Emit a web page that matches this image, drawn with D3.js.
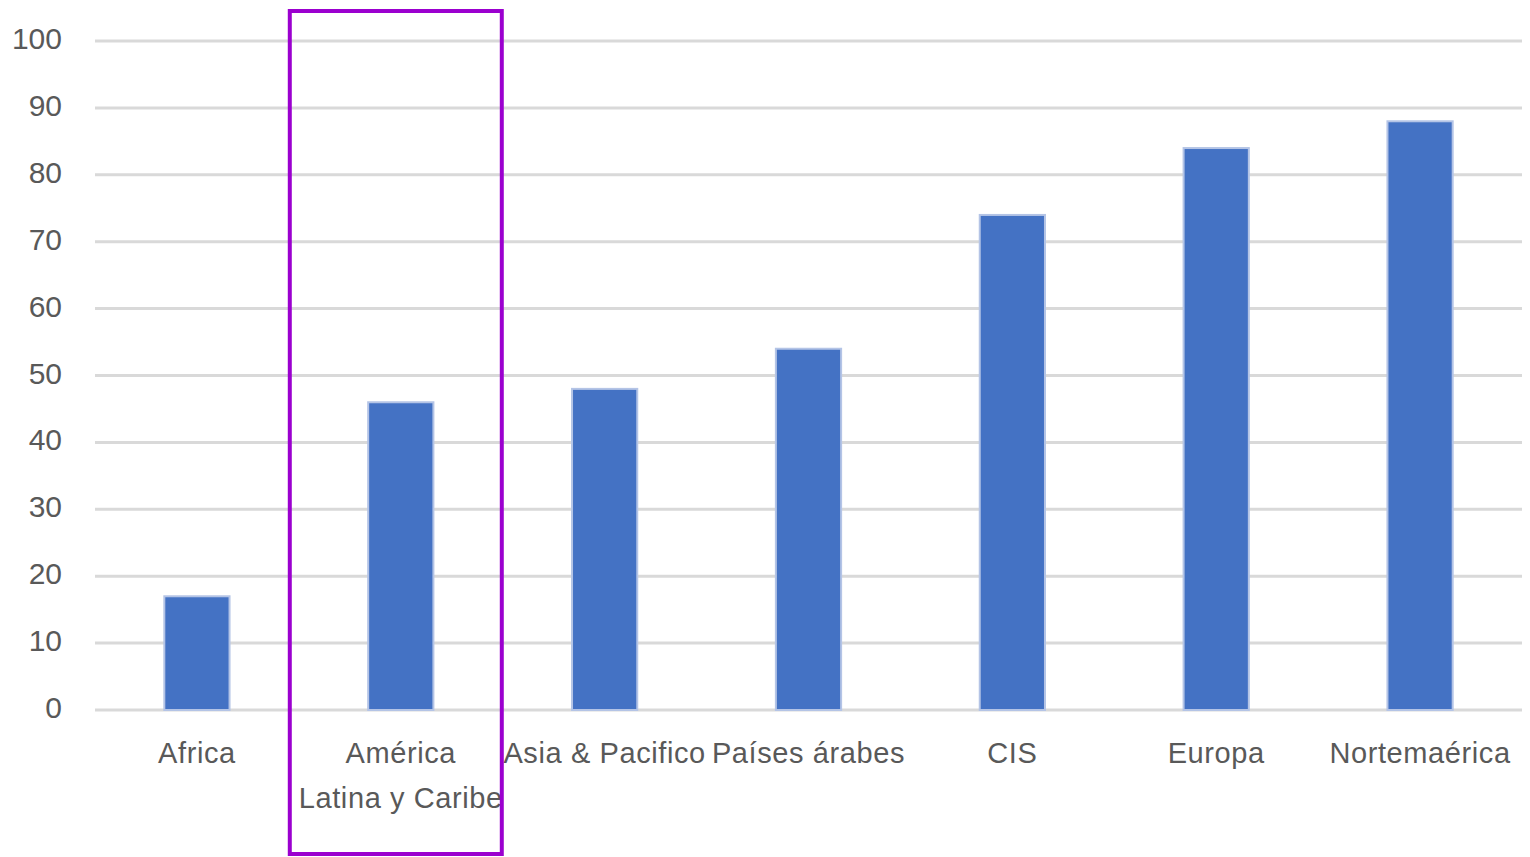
<!DOCTYPE html>
<html>
<head>
<meta charset="utf-8">
<script src="https://cdn.jsdelivr.net/npm/d3@7"></script>
<style>
  html, body { margin: 0; padding: 0; background: #fff; }
  svg { display: block; }
</style>
</head>
<body>
<svg id="chart" width="1530" height="857"></svg>
<script>
const categories = ["Africa", "América\nLatina y Caribe", "Asia & Pacifico", "Países árabes", "CIS", "Europa", "Nortemaérica"];
const values = [17, 46, 48, 54, 74, 84, 88];
const yTicks = [0, 10, 20, 30, 40, 50, 60, 70, 80, 90, 100];
const highlighted = "América\nLatina y Caribe";

(function () {
const svg = d3.select("#chart");
const mLeft = 95, mRight = 1522, mTop = 41, mBottom = 710;

const x = d3.scaleBand().domain(categories).range([mLeft, mRight]).paddingInner(0.68).paddingOuter(0.34);
const y = d3.scaleLinear().domain([0, 100]).range([mBottom, mTop]);

const font = "'Liberation Sans', Arial, sans-serif";
const textColor = "#595959";

// gridlines
svg.append("g").selectAll("line").data(yTicks).join("line")
  .attr("x1", mLeft).attr("x2", mRight)
  .attr("y1", d => y(d)).attr("y2", d => y(d))
  .attr("stroke", "#d9d9d9").attr("stroke-width", 3);

// y labels
const yAxis = d3.axisLeft(y).tickValues(yTicks).tickSize(0).tickPadding(0);
const gy = svg.append("g").attr("transform", "translate(62,0)").call(yAxis);
gy.select(".domain").remove();
gy.selectAll("text").attr("font-family", font).attr("font-size", 30).attr("fill", textColor).attr("dy", "0.25em");

// bars
svg.append("g").selectAll("rect").data(values).join("rect")
  .attr("x", (d, i) => x(categories[i]))
  .attr("width", x.bandwidth())
  .attr("y", d => y(d))
  .attr("height", d => y(0) - y(d))
  .attr("fill", "#4472c4")
  .attr("stroke", "#b4c4e6").attr("stroke-width", 2);

// x labels
const xl = svg.append("g").selectAll("text").data(categories).join("text")
  .attr("x", d => x(d) + x.bandwidth() / 2)
  .attr("y", 763)
  .attr("text-anchor", "middle")
  .attr("letter-spacing", "0.6px")
  .attr("font-family", font).attr("font-size", 29).attr("fill", textColor);
xl.each(function(d) {
  const lines = d.split("\n");
  const t = d3.select(this);
  lines.forEach((ln, k) => {
    t.append("tspan").attr("x", x(d) + x.bandwidth() / 2).attr("dy", k === 0 ? 0 : 45).text(ln);
  });
});

// highlight rectangle
const hx = x(highlighted) + x.bandwidth() / 2;
svg.append("rect")
  .attr("x", hx - 111).attr("y", 11)
  .attr("width", 212).attr("height", 843)
  .attr("fill", "none").attr("stroke", "#9b00cf").attr("stroke-width", 4);
})();
</script>
</body>
</html>
